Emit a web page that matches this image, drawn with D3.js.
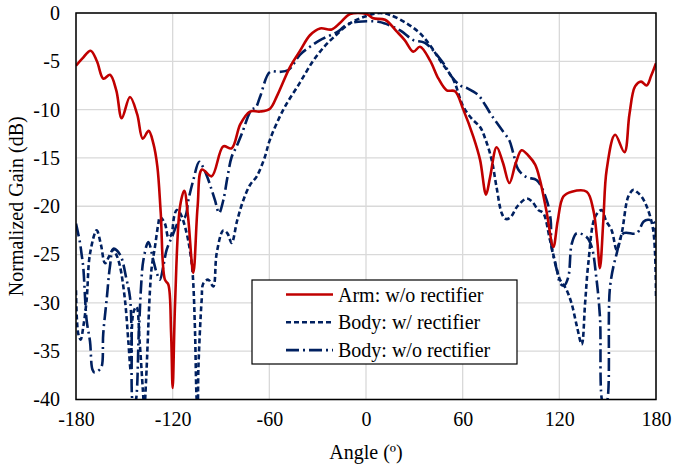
<!doctype html>
<html lang="en">
<head>
<meta charset="utf-8">
<title>Normalized Gain</title>
<script src="https://d3js.org/d3.v7.min.js"></script>
<style>
  body { margin: 0; background: #fff; }
  svg text { font-family: "Times New Roman", "Liberation Serif", "DejaVu Serif", serif; fill: #000; }
  .grid line { stroke: #d9d9d9; stroke-width: 1.3; }
</style>
</head>
<body>
<svg id="chart" width="673" height="466"></svg>
<script>
// angle ticks and gain ticks
var angleTicks = [-180, -120, -60, 0, 60, 120, 180];
var gainTicks = [0, -5, -10, -15, -20, -25, -30, -35, -40];

// Arm: w/o rectifier
var armAngle = [-180, -176, -170.9, -167, -163, -158.9, -155, -151.6, -146.5, -142, -138.6, -134.9, -132, -129.5,
  -127.4, -124.8, -122.7, -121, -120, -118.5, -115.4, -112.8, -110.5, -107.2, -104.5, -101.8, -95.8, -88.6, -83.4,
  -78, -72, -65.8, -59.6, -55, -47.2, -40.9, -34.8, -28.5, -21.3, -16, -9.9, 0.4, 4.5, 11.8, 19, 24, 29.4, 33.5,
  39.7, 45, 50.1, 55.2, 60.4, 66.6, 70.8, 74.5, 77, 81.1, 85, 89, 93, 96.6, 101, 105, 108, 112, 116.3, 119, 122.5,
  127.7, 137, 141.1, 143.5, 145.2, 147.3, 149.4, 154.6, 160.4, 163.5, 167, 170.7, 174.2, 177, 180];
var armGain = [-5.45, -4.7, -3.9, -5, -6.8, -6.4, -8, -10.9, -8.7, -10.5, -13.0, -12.2, -13.5, -15.9,
  -20.7, -27.6, -28.1, -33, -38.8, -30, -20.0, -18.4, -21, -26.9, -20, -16.2, -16.9, -13.8, -14.0,
  -11.5, -10.2, -10.2, -9.9, -8.5, -5.6, -3.9, -2.3, -1.6, -1.7, -1.0, -0.1, -0.1, -0.55, -0.7, -1.9, -2.8, -4.0, -3.5,
  -4.9, -6.8, -8.0, -8.1, -10.0, -12.8, -15.2, -18.8, -17, -13.9, -15.5, -17.6, -15.5, -14.2, -14.8, -15.7, -17.3, -20.5, -24.2, -21.5, -19.0,
  -18.5, -18.5, -20.4, -23.5, -26.4, -21.5, -16.2, -12.6, -14.4, -10.5, -7.6, -7.1, -7.5, -6.5, -5.2];

// Body: w/ rectifier
var bodyRecAngle = [-180, -178.6, -177.1, -175.5, -173.4, -171.3, -167.2, -164.5, -162, -159.5, -157, -155, -152.7,
  -149.6, -147.5, -146, -144.4, -142.4, -140.5, -138.5, -137.6, -136.5, -134.1, -133, -131, -128.9, -127.9, -124.8,
  -122.7, -121, -119, -117.5, -115.4, -111.3, -108.2, -107.2, -106.1, -105.1, -104.5, -104, -102, -101, -97.9, -94.8,
  -92.7, -88.6, -86, -83.4, -80, -76.2, -72, -67.8, -63, -59.6, -51.3, -41, -33, -26, -20, -9.9, 0.4, 8.7, 14.9, 25.2,
  33.5, 40, 45.9, 54.2, 60.4, 66, 70.8, 74, 78, 81, 84.2, 86.5, 89.4, 94, 99.7, 103, 107, 110, 114.2, 117, 120.4, 124,
  127.5, 131, 133.9, 136, 138, 142.2, 146.3, 149, 152.5, 155.6, 158.7, 162.8, 166, 168, 171, 174.2, 178.3, 180];
var bodyRecGain = [-28.7, -33.2, -33.8, -32.5, -29.7, -24.9, -22.5, -24, -25.9, -25.2, -24.5, -25, -26.2,
  -29.7, -34, -37, -31, -30.4, -34, -39, -41, -38, -28.7, -26.3, -24.2, -21.8, -21.1, -21.8,
  -23.2, -23, -21, -20.4, -20.7, -22.8, -25.9, -28, -33.1, -40, -41, -36.6, -29.7, -28, -27.6, -28.3,
  -24.9, -22.5, -22.8, -23.8, -21.5, -19.4, -17.8, -16.9, -15, -13.1, -10.0, -7.2, -5.0, -3.5, -2.5, -1.07, -0.3, 0, -0.2, -1.07,
  -2.1, -3.4, -4.9, -6.9, -9.7, -11, -11.8, -13, -15.2, -18, -20.7, -21.3, -21.2, -20, -19.2, -19.5, -20.4, -20.7, -23.5, -25.5, -27.6, -28.5,
  -30, -32.5, -34.3, -30, -25.9, -21.1, -20.4, -21.5, -22.5, -24.5, -22.8, -19.0, -18.3, -18.5, -19, -20, -22.5, -29.3];

// Body: w/o rectifier
var bodyNoRecAngle = [-180, -177.5, -176.5, -175.5, -173.4, -171.3, -169.8, -168.5, -166, -164.1, -163.1, -161, -158.9,
  -156.8, -152.7, -148.6, -146.5, -145.5, -144.4, -143.5, -141, -139.5, -138.2, -135.1, -132, -129.9, -127.9, -125.8,
  -123.7, -120, -116, -112.3, -110.3, -107.2, -103.5, -101, -98, -95.8, -93.7, -91.2, -88.6, -86, -83.4, -80.3, -77.1,
  -71, -68.5, -65.8, -59.6, -54, -48.2, -40.9, -34.8, -28.5, -17.2, -12, -4.8, 7.6, 12, 21.2, 29.4, 36.6, 48, 53.2,
  58.4, 63, 69.7, 73.9, 78, 85.2, 89, 91.4, 94.5, 99.7, 106, 112.2, 114.6, 115.2, 119.2, 120.4, 123, 125.6, 127.7,
  130.8, 137, 140.1, 142.9, 145.2, 147.3, 149, 151.5, 155.6, 159.8, 168, 172.2, 175, 178.5, 180];
var bodyNoRecGain = [-21.8, -23.8, -25, -26.3, -31.8, -34, -36.9, -37.2, -37, -36.6, -33.2, -29.7, -26.2,
  -24.4, -25, -27.6, -29.4, -33, -40.5, -40.5, -33, -28, -25.6, -23.7, -25.6, -26.9, -27.6, -26.2,
  -24.5, -23, -21.5, -21.1, -19.4, -17.3, -15.4, -16, -17.2, -18.3, -19.4, -20.7, -19.4, -17, -14.9, -13.8, -12.5,
  -10.0, -9.8, -8.7, -6.1, -6.1, -5.9, -4.3, -3.5, -2.8, -1.9, -1.2, -0.9, -0.9, -1.1, -1.8, -2.8, -3.1, -5.2, -6.6,
  -7.5, -7.8, -8.5, -9.5, -10.6, -12.3, -13.2, -14.5, -16.2, -17, -17.3, -19.4, -21.4, -24.2, -27.1, -28, -28.2, -27.3, -23.9,
  -22.8, -23.2, -24.2, -27.3, -31.4, -40.5, -40.5, -28.3, -24.9, -22.8, -22.8, -21.6, -21.4, -21.6, -23.2];

var seriesNames = ["Arm: w/o rectifier", "Body: w/ rectifier", "Body: w/o rectifier"];
var seriesColors = ["#c00000", "#002060", "#002060"];
var seriesDash = [null, "5,3", "13,4,2,4"];

var series = [
  armAngle.map(function(a, i) { return { x: a, y: armGain[i] }; }),
  bodyRecAngle.map(function(a, i) { return { x: a, y: bodyRecGain[i] }; }),
  bodyNoRecAngle.map(function(a, i) { return { x: a, y: bodyNoRecGain[i] }; })
];

var FONT = "'Times New Roman', 'Liberation Serif', 'DejaVu Serif', serif";

var margin = { left: 76, right: 17, top: 13, bottom: 66.5 },
    width = 673 - margin.left - margin.right,
    height = 466 - margin.top - margin.bottom;

var svg = d3.select("#chart");
var g = svg.append("g").attr("transform", "translate(" + margin.left + "," + margin.top + ")");

var x = d3.scaleLinear().domain([-180, 180]).range([0, width]);
var y = d3.scaleLinear().domain([-40, 0]).range([height, 0]);

// gridlines
g.append("g").attr("class", "grid")
  .selectAll("line.v").data(angleTicks).enter().append("line")
  .attr("x1", function(d) { return x(d); }).attr("x2", function(d) { return x(d); })
  .attr("y1", 0).attr("y2", height);
g.append("g").attr("class", "grid")
  .selectAll("line.h").data(gainTicks).enter().append("line")
  .attr("y1", function(d) { return y(d); }).attr("y2", function(d) { return y(d); })
  .attr("x1", 0).attr("x2", width);

// axes (labels only, the frame is drawn below)
var xAxis = g.append("g").attr("transform", "translate(0," + height + ")")
  .call(d3.axisBottom(x).tickValues(angleTicks).tickSize(0).tickPadding(12).tickFormat(function(d) { return String(d); }));
var yAxis = g.append("g")
  .call(d3.axisLeft(y).tickValues(gainTicks).tickSize(0).tickPadding(16).tickFormat(function(d) { return String(d); }));
[xAxis, yAxis].forEach(function(a) {
  a.attr("font-family", FONT).attr("font-size", 20);
  a.select(".domain").remove();
  a.selectAll("text").style("font-family", FONT).style("font-size", "20px");
});

// clip
svg.append("defs").append("clipPath").attr("id", "plotclip")
  .append("rect").attr("x", 0).attr("y", 0).attr("width", width).attr("height", height);

var line = d3.line()
  .x(function(d) { return x(d.x); })
  .y(function(d) { return y(d.y); })
  .curve(d3.curveCatmullRom.alpha(0.5));

var plot = g.append("g").attr("clip-path", "url(#plotclip)");
// dashed ones first so the red sits on top
[2, 1, 0].forEach(function(i) {
  plot.append("path")
    .datum(series[i])
    .attr("fill", "none")
    .attr("stroke", seriesColors[i])
    .attr("stroke-width", 2.6)
    .attr("stroke-dasharray", seriesDash[i])
    .attr("d", line);
});

// frame
g.append("rect").attr("width", width).attr("height", height)
  .attr("fill", "none").attr("stroke", "#000").attr("stroke-width", 1.5);

// axis titles
svg.append("text")
  .attr("x", margin.left + width / 2).attr("y", 459)
  .attr("text-anchor", "middle")
  .style("font-family", FONT).style("font-size", "20px")
  .text("Angle (º)");
svg.append("text")
  .attr("transform", "translate(23," + (margin.top + height / 2) + ") rotate(-90)")
  .attr("text-anchor", "middle")
  .style("font-family", FONT).style("font-size", "20px")
  .text("Normalized Gain (dB)");

// legend
var legend = svg.append("g").attr("transform", "translate(252,280)");
legend.append("rect").attr("width", 265).attr("height", 84)
  .attr("fill", "#fff").attr("stroke", "#000").attr("stroke-width", 1.2);
seriesNames.forEach(function(name, i) {
  var ly = 14.5 + i * 27.8;
  legend.append("line")
    .attr("x1", 34).attr("x2", 81).attr("y1", ly).attr("y2", ly)
    .attr("stroke", seriesColors[i]).attr("stroke-width", 2.6)
    .attr("stroke-dasharray", seriesDash[i]);
  legend.append("text")
    .attr("x", 86).attr("y", ly).attr("dy", "0.35em")
    .style("font-family", FONT).style("font-size", "20px")
    .text(name);
});
</script>
</body>
</html>
